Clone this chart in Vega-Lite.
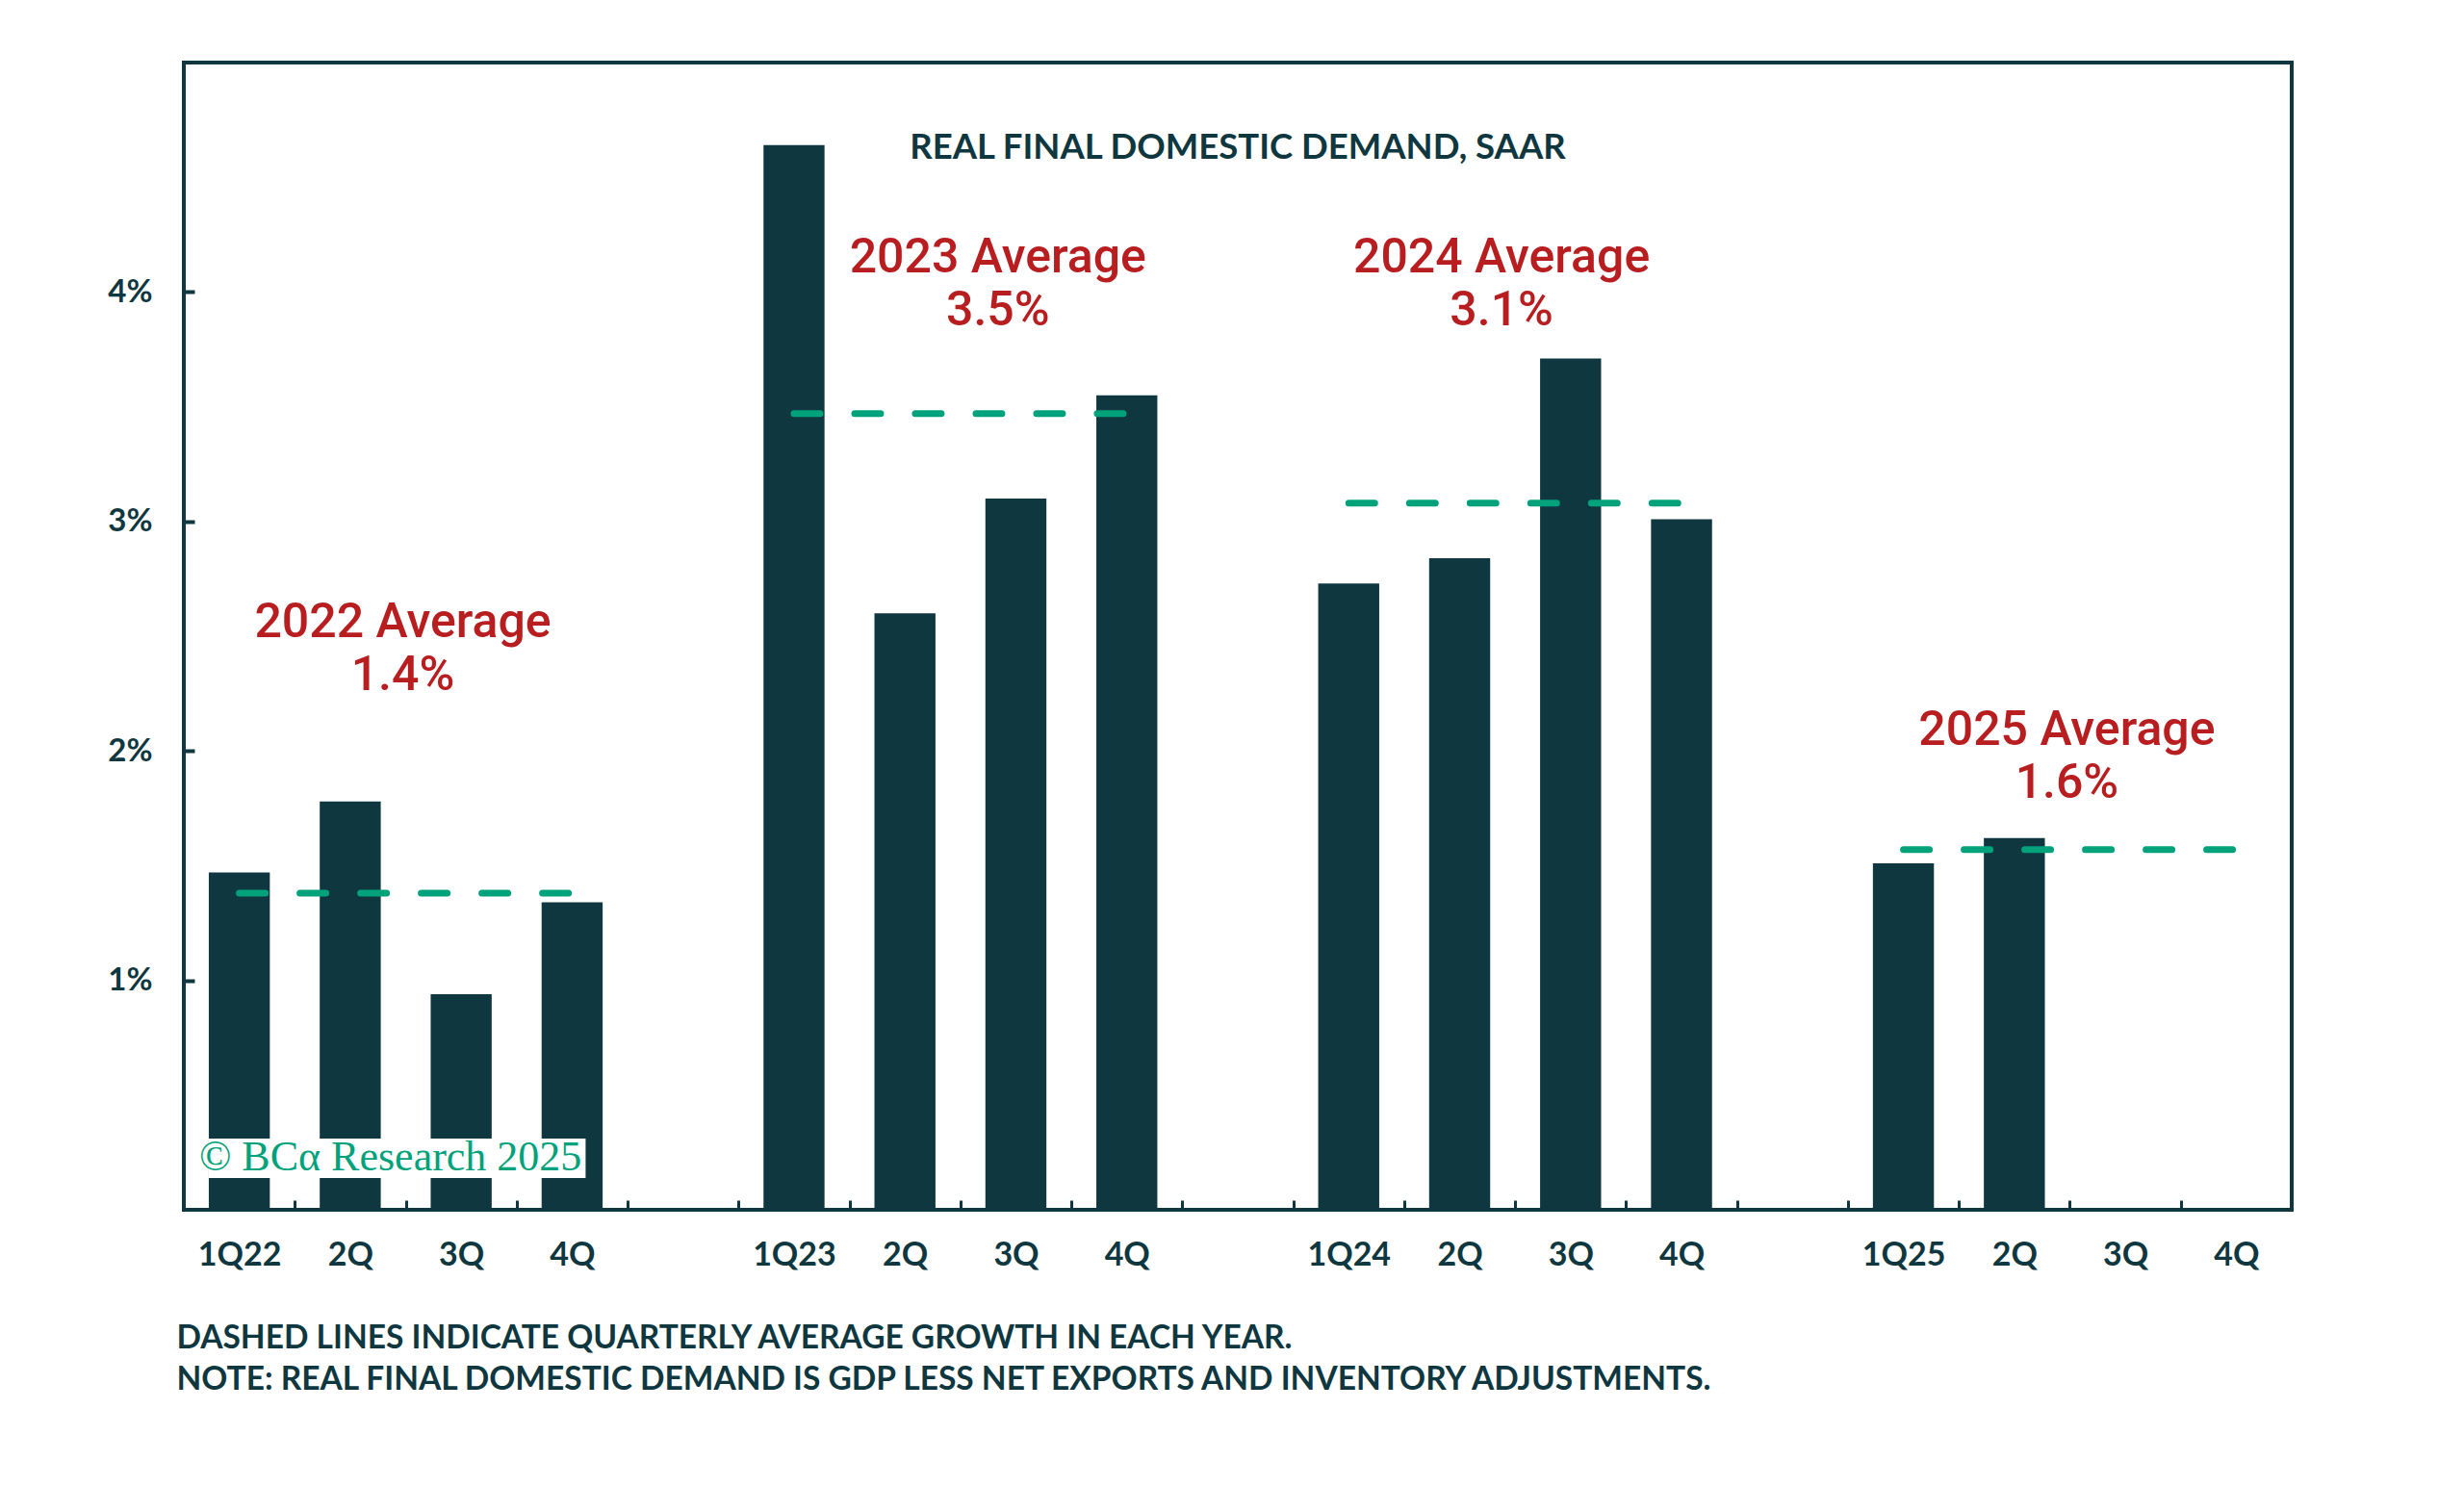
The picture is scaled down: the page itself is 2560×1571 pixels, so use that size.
{
  "$schema": "https://vega.github.io/schema/vega-lite/v6.json",
  "width": 2190,
  "height": 1192,
  "autosize": {"type": "none"},
  "padding": {"left": 191, "top": 65, "right": 179, "bottom": 314},
  "background": "white",
  "config": {
    "view": {"stroke": "#0f3740", "strokeWidth": 4},
    "font": "Lato"
  },
  "title": {
    "text": "REAL FINAL DOMESTIC DEMAND, SAAR",
    "anchor": "middle",
    "orient": "top",
    "offset": -125,
    "baseline": "middle",
    "font": "Lato",
    "fontSize": 36.5,
    "fontWeight": "bold",
    "color": "#0f3740"
  },
  "datasets": {
    "bars": [
      {"cat": "1Q22", "val": 1.47},
      {"cat": "2Q22", "val": 1.78},
      {"cat": "3Q22", "val": 0.94},
      {"cat": "4Q22", "val": 1.34},
      {"cat": "1Q23", "val": 4.64},
      {"cat": "2Q23", "val": 2.60},
      {"cat": "3Q23", "val": 3.10},
      {"cat": "4Q23", "val": 3.55},
      {"cat": "1Q24", "val": 2.73},
      {"cat": "2Q24", "val": 2.84},
      {"cat": "3Q24", "val": 3.71},
      {"cat": "4Q24", "val": 3.01},
      {"cat": "1Q25", "val": 1.51},
      {"cat": "2Q25", "val": 1.62}
    ],
    "avg": [
      {"year": "2022", "start": "1Q22", "end": "4Q22", "avg": 1.38},
      {"year": "2023", "start": "1Q23", "end": "4Q23", "avg": 3.47},
      {"year": "2024", "start": "1Q24", "end": "4Q24", "avg": 3.08},
      {"year": "2025", "start": "1Q25", "end": "4Q25", "avg": 1.57}
    ],
    "notes": [
      {"year": "2022", "cat": "3Q22", "y": 2.56, "label": "2022 Average\n1.4%"},
      {"year": "2023", "cat": "3Q23", "y": 4.15, "label": "2023 Average\n3.5%"},
      {"year": "2024", "cat": "3Q24", "y": 4.15, "label": "2024 Average\n3.1%"},
      {"year": "2025", "cat": "3Q25", "y": 2.09, "label": "2025 Average\n1.6%"}
    ],
    "mark": [{"text": "© BCα Research 2025"}]
  },
  "layer": [
    {
      "data": {"name": "bars"},
      "mark": {"type": "bar", "color": "#0f3740"},
      "encoding": {
        "x": {
          "field": "cat",
          "type": "nominal",
          "sort": null,
          "scale": {
            "domain": ["1Q22","2Q22","3Q22","4Q22","g1","1Q23","2Q23","3Q23","4Q23","g2","1Q24","2Q24","3Q24","4Q24","g3","1Q25","2Q25","3Q25","4Q25"],
            "paddingInner": 0.45,
            "paddingOuter": 0.225
          },
          "axis": {
            "title": ["DASHED LINES INDICATE QUARTERLY AVERAGE GROWTH IN EACH YEAR.", "NOTE: REAL FINAL DOMESTIC DEMAND IS GDP LESS NET EXPORTS AND INVENTORY ADJUSTMENTS."],
            "titleFont": "Lato",
            "titleFontSize": 33.5,
            "titleFontWeight": "bold",
            "titleColor": "#0f3740",
            "titleAnchor": "start",
            "titleAlign": "left",
            "titleBaseline": "alphabetic",
            "titleLineHeight": 43,
            "titleX": -8,
            "titleY": 143,
            "domain": false,
            "bandPosition": 0.5,
            "tickOffset": -57.63,
            "ticks": true,
            "tickSize": -10,
            "tickWidth": 3,
            "tickColor": "#0f3740",
            "labelOffset": 57.63,
            "labelAngle": 0,
            "labelAlign": "center",
            "labelBaseline": "top",
            "labelPadding": 40,
            "labelFont": "Lato",
            "labelFontSize": 34,
            "labelFontWeight": "bold",
            "labelColor": "#0f3740",
            "labelExpr": "substring(datum.value,0,1) == 'g' ? '' : (substring(datum.value,0,1) == '1' ? datum.value : substring(datum.value,0,2))"
          }
        },
        "y": {
          "field": "val",
          "type": "quantitative",
          "scale": {"domain": [0, 5], "nice": false},
          "axis": {
            "title": null,
            "domain": false,
            "grid": false,
            "values": [1, 2, 3, 4],
            "tickSize": -11,
            "tickWidth": 4,
            "tickColor": "#0f3740",
            "labelExpr": "datum.value + '%'",
            "labelPadding": 44,
            "labelFont": "Lato",
            "labelFontSize": 33,
            "labelFontWeight": "bold",
            "labelColor": "#0f3740"
          }
        }
      }
    },
    {
      "data": {"name": "avg"},
      "mark": {"type": "rule", "color": "#00a27b", "strokeWidth": 7, "strokeCap": "round", "strokeDash": [27, 36]},
      "encoding": {
        "x": {"field": "start", "type": "nominal"},
        "x2": {"field": "end"},
        "y": {"field": "avg", "type": "quantitative"}
      }
    },
    {
      "data": {"name": "mark"},
      "mark": {"type": "rect", "color": "white", "x2Offset": 14},
      "encoding": {
        "x": {"datum": "1Q22", "type": "nominal", "bandPosition": 0},
        "x2": {"datum": "4Q22"},
        "y": {"datum": 0.138, "type": "quantitative"},
        "y2": {"datum": 0.31}
      }
    },
    {
      "data": {"name": "mark"},
      "mark": {"type": "text", "color": "#00a27b", "font": "Liberation Serif", "fontSize": 44, "align": "left", "baseline": "alphabetic", "dx": -10},
      "encoding": {
        "x": {"datum": "1Q22", "type": "nominal", "bandPosition": 0},
        "y": {"datum": 0.17, "type": "quantitative"},
        "text": {"field": "text"}
      }
    },
    {
      "data": {"name": "notes"},
      "transform": [{"filter": "datum.year == '2022'"}],
      "mark": {"type": "text", "color": "#b81d1f", "font": "Roboto", "fontSize": 50, "fontWeight": 500, "lineHeight": 55, "lineBreak": "\n", "align": "center", "baseline": "middle", "dx": -29},
      "encoding": {
        "x": {"field": "cat", "type": "nominal", "bandPosition": 0},
        "y": {"field": "y", "type": "quantitative"},
        "text": {"field": "label"}
      }
    },
    {
      "data": {"name": "notes"},
      "transform": [{"filter": "datum.year == '2023'"}],
      "mark": {"type": "text", "color": "#b81d1f", "font": "Roboto", "fontSize": 50, "fontWeight": 500, "lineHeight": 55, "lineBreak": "\n", "align": "center", "baseline": "middle", "dx": 13},
      "encoding": {
        "x": {"field": "cat", "type": "nominal", "bandPosition": 0},
        "y": {"field": "y", "type": "quantitative"},
        "text": {"field": "label"}
      }
    },
    {
      "data": {"name": "notes"},
      "transform": [{"filter": "datum.year == '2024'"}],
      "mark": {"type": "text", "color": "#b81d1f", "font": "Roboto", "fontSize": 50, "fontWeight": 500, "lineHeight": 55, "lineBreak": "\n", "align": "center", "baseline": "middle", "dx": -40},
      "encoding": {
        "x": {"field": "cat", "type": "nominal", "bandPosition": 0},
        "y": {"field": "y", "type": "quantitative"},
        "text": {"field": "label"}
      }
    },
    {
      "data": {"name": "notes"},
      "transform": [{"filter": "datum.year == '2025'"}],
      "mark": {"type": "text", "color": "#b81d1f", "font": "Roboto", "fontSize": 50, "fontWeight": 500, "lineHeight": 55, "lineBreak": "\n", "align": "center", "baseline": "middle", "dx": -29},
      "encoding": {
        "x": {"field": "cat", "type": "nominal", "bandPosition": 0},
        "y": {"field": "y", "type": "quantitative"},
        "text": {"field": "label"}
      }
    }
  ]
}
